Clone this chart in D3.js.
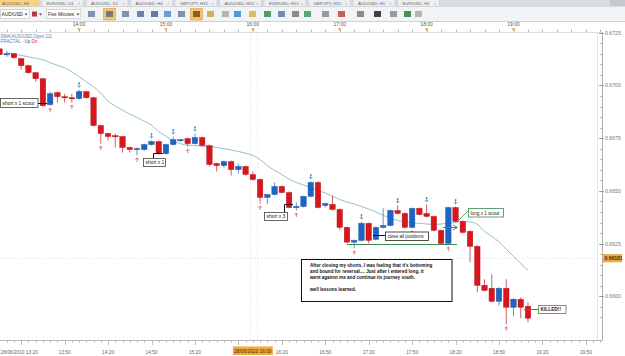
<!DOCTYPE html>
<html><head><meta charset="utf-8">
<script src="https://cdn.jsdelivr.net/npm/d3@7"></script>
<style>body{margin:0;background:#fff;overflow:hidden}svg{display:block;font-family:"Liberation Sans",Arial,sans-serif}</style>
</head><body><svg id="c" width="625" height="356"></svg>
<script>
// ---------- DATA ----------
const times = ["13:05","13:10","13:15","13:20","13:25","13:30","13:35","13:40","13:45","13:50","13:55",
"14:00","14:05","14:10","14:15","14:20","14:25","14:30","14:35","14:40","14:45","14:50","14:55",
"15:00","15:05","15:10","15:15","15:20","15:25","15:30","15:35","15:40","15:45","15:50","15:55",
"16:00","16:05","16:10","16:15","16:20","16:25","16:30","16:35","16:40","16:45","16:50","16:55",
"17:00","17:05","17:10","17:15","17:20","17:25","17:30","17:35","17:40","17:45","17:50","17:55",
"18:00","18:05","18:10","18:15","18:20","18:25","18:30","18:35","18:40","18:45","18:50","18:55",
"19:00","19:05","19:10"];
const opens = [
0.67174,0.67146,0.67151,0.67127,0.67094,0.67061,0.67032,0.66909,0.66966,0.66947,
0.66942,0.66938,0.66971,0.66942,0.66810,0.66772,0.66762,0.66758,0.66706,0.66698,
0.66696,0.66720,0.66734,0.66677,0.66720,0.66739,0.66748,0.66724,0.66753,0.66715,
0.66630,0.66620,0.66639,0.66601,0.66616,0.66578,0.66554,0.66469,0.66483,0.66521,
0.66492,0.66421,0.66426,0.66474,0.66540,0.66431,0.66436,0.66412,0.66327,0.66257,
0.66265,0.66346,0.66270,0.66327,0.66336,0.66407,0.66393,0.66327,0.66417,0.66393,
0.66379,0.66313,0.66251,0.66421,0.66355,0.66308,0.66237,0.66052,0.66038,0.65976,
0.66038,0.65948,0.65986,0.65953];
const highs = [
0.67184,0.67165,0.67155,0.67132,0.67099,0.67065,0.67037,0.66971,0.66971,0.66961,
0.66961,0.66980,0.66975,0.66947,0.66814,0.66777,0.66772,0.66762,0.66710,0.66706,
0.66724,0.66739,0.66739,0.66724,0.66758,0.66748,0.66753,0.66772,0.66758,0.66720,
0.66634,0.66644,0.66644,0.66630,0.66620,0.66592,0.66559,0.66483,0.66540,0.66526,
0.66497,0.66445,0.66478,0.66545,0.66545,0.66445,0.66478,0.66417,0.66331,0.66270,
0.66355,0.66350,0.66331,0.66417,0.66412,0.66431,0.66398,0.66421,0.66421,0.66436,
0.66384,0.66317,0.66426,0.66426,0.66360,0.66313,0.66242,0.66081,0.66104,0.66043,
0.66081,0.65991,0.65995,0.65972];
const lows = [
0.67141,0.67136,0.67127,0.67075,0.67056,0.67018,0.66900,0.66904,0.66919,0.66919,
0.66919,0.66933,0.66938,0.66805,0.66724,0.66739,0.66706,0.66682,0.66682,0.66668,
0.66691,0.66715,0.66672,0.66672,0.66715,0.66734,0.66710,0.66720,0.66710,0.66616,
0.66592,0.66611,0.66573,0.66582,0.66573,0.66549,0.66440,0.66436,0.66478,0.66488,
0.66417,0.66407,0.66421,0.66469,0.66417,0.66421,0.66407,0.66313,0.66251,0.66227,
0.66260,0.66251,0.66265,0.66322,0.66331,0.66388,0.66322,0.66322,0.66384,0.66374,
0.66308,0.66246,0.66246,0.66350,0.66298,0.66161,0.66019,0.66024,0.65972,0.65957,
0.65867,0.65905,0.65896,0.65877];
const closes = [
0.67146,0.67151,0.67132,0.67094,0.67061,0.67032,0.66904,0.66961,0.66947,0.66942,
0.66938,0.66971,0.66942,0.66810,0.66772,0.66758,0.66758,0.66706,0.66696,0.66701,
0.66720,0.66734,0.66677,0.66720,0.66743,0.66743,0.66724,0.66753,0.66715,0.66625,
0.66620,0.66639,0.66601,0.66616,0.66578,0.66554,0.66469,0.66483,0.66521,0.66492,
0.66421,0.66426,0.66474,0.66540,0.66421,0.66440,0.66412,0.66327,0.66257,0.66265,
0.66346,0.66265,0.66327,0.66336,0.66407,0.66393,0.66327,0.66417,0.66388,0.66379,
0.66313,0.66251,0.66421,0.66355,0.66303,0.66237,0.66052,0.66028,0.65976,0.66038,
0.65948,0.65986,0.65948,0.65896];
const ma12 = [null,0.67155,0.67148,0.67143,0.67136,0.67129,0.67122,0.67108,0.67096,0.67084,
0.67065,0.67042,0.67018,0.66994,0.66964,0.66926,0.66902,0.66883,0.66864,0.66848,
0.66831,0.66812,0.66781,0.66760,0.66736,0.66724,0.66717,0.66715,0.66713,0.66710,
0.66706,0.66701,0.66694,0.66687,0.66679,0.66668,0.66649,0.66620,0.66597,0.66578,
0.66556,0.66540,0.66528,0.66516,0.66502,0.66490,0.66474,0.66459,0.66447,0.66438,
0.66426,0.66414,0.66400,0.66384,0.66369,0.66360,0.66353,0.66348,0.66346,0.66343,
0.66341,0.66343,0.66346,0.66350,0.66355,0.66353,0.66341,0.66308,0.66284,0.66258,
0.66223,0.66189,0.66156,0.66123];
const fractalUp = [11,21,24,27,43,50,55,59,63];
const fractalDn = [7,10,14,19,26,36,41,49,57,62,70];
const priceTicks = [0.6600,0.6625,0.6650,0.6675,0.6700,0.6725];
const lastPrice = 0.66181;
const cursorTime = "16:00";
const tabs = ["AUD/USD, H4","EUR/USD, D1","AUD/USD, D1","AUD/USD, H4","GBP/JPY, H15","AUD/USD, H15","EUR/USD, H15","GBP/JPY, H15","AUD/USD, H1","EUR/USD, H1"];
const noteText = ["After closing my shorts, I was feeling that it's bottoming",
"and bound for reversal....  Just after I entered long, it",
"went against me and continue its journey south.",
"",
"well lessons learned."];

// ---------- LAYOUT ----------
const svg = d3.select("#c");
const parseT = d3.timeParse("%H:%M");
const fmt = d3.timeFormat("%H:%M");
const T = times.map(parseT);
const x = d3.scaleTime().domain([T[0], T[T.length-1]]).range([-0.54, 527.98]);
const y = d3.scaleLinear().domain([0.6600, 0.6725]).range([296.3, 32.8]);
const PR = 602.5, PT = 32.5, PB = 340.5;
const RED = "#d8161c", BLUE = "#1d64c4", GREEN = "#3b8c4b";

svg.append("rect").attr("width",625).attr("height",356).attr("fill","#fff");

// ---------- toolbar ----------
const tb = svg.append("g");
tb.append("rect").attr("x",0).attr("y",0).attr("width",625).attr("height",7).attr("fill","#d8dbe0");
tabs.forEach((t,k)=>{
  const tx = k*44.5 - 3;
  tb.append("rect").attr("x",tx).attr("y",-1).attr("width",42).attr("height",7.5)
    .attr("fill", k===0 ? "#f7d383" : "#eceef1").attr("stroke","#c2c5ca").attr("stroke-width",0.5);
  tb.append("text").attr("x",tx+5).attr("y",4.6).attr("font-size",4.3).attr("fill","#666").text(t);
  tb.append("text").attr("x",tx+36.5).attr("y",4.8).attr("font-size",4).attr("fill","#999").text("×");
});
tb.append("rect").attr("x",610).attr("y",0).attr("width",15).attr("height",6).attr("fill","#c5c8ce");
tb.append("rect").attr("x",0).attr("y",7).attr("width",625).attr("height",14.5).attr("fill","#f2f3f5");
tb.append("line").attr("x1",0).attr("x2",625).attr("y1",21.5).attr("y2",21.5).attr("stroke","#cdd0d4");
tb.append("rect").attr("x",0.5).attr("y",9.5).attr("width",29).attr("height",9).attr("fill","#fff").attr("stroke","#b5b8bd").attr("stroke-width",0.5);
tb.append("text").attr("x",1.5).attr("y",16).attr("font-size",4.8).attr("fill","#222").text("AUD/USD");
tb.append("path").attr("d","M24.5,13.5L27.5,13.5L26,15.5Z").attr("fill","#444");
tb.append("rect").attr("x",32).attr("y",11.5).attr("width",5).attr("height",5).attr("fill","#b04040");
tb.append("path").attr("d","M39,13.5L42,13.5L40.5,15.5Z").attr("fill","#444");
tb.append("rect").attr("x",46.5).attr("y",9.5).attr("width",34).attr("height",9).attr("fill","#fff").attr("stroke","#b5b8bd").attr("stroke-width",0.5);
tb.append("text").attr("x",48).attr("y",16).attr("font-size",4.6).attr("fill","#222").text("Five Minutes");
tb.append("path").attr("d","M76.5,13.5L79.5,13.5L78,15.5Z").attr("fill","#444");
const icons = [[88,"#6d83a0",0],[106,"#5d6f8a",1],[122,"#6d83a0",0],[137,"#4e6ea6",0],[151,"#3f69a8",0],[164,"#4d8cd2",0],[178,"#6d7f98",0],
[193,"#7a4a20",1],[207,"#cfa43c",0],[222,"#a8a8a8",0],[234,"#2f86d8",0],[249,"#d6b24a",0],[264,"#3a8a48",0],[278,"#5a7aa2",0],
[292,"#777",0],[304,"#3a9a5a",0],[322,"#888",0],[338,"#c04444",0],[357,"#777",0],[374,"#222",0],[390,"#888",0],[404,"#2f7a3a",0],[415,"#aaa",0]];
icons.forEach(([ix,c,hl])=>{
  if(hl) tb.append("rect").attr("x",ix-2.5).attr("y",8.5).attr("width",12).attr("height",11.5).attr("fill","#f6c36a").attr("stroke","#e39c33").attr("stroke-width",0.6);
  tb.append("rect").attr("x",ix).attr("y",11).attr("width",7).attr("height",6).attr("fill",c).attr("opacity",0.85);
});

// ---------- top time axis ----------
const tAx = svg.append("g");
const t0 = x.invert(0), t1 = x.invert(PR);
d3.timeMinute.every(10).range(t0, t1).forEach(t=>{
  const xx = Math.round(x(t))+0.5;
  tAx.append("line").attr("x1",xx).attr("x2",xx).attr("y1",29.5).attr("y2",32).attr("stroke","#9a9a9a").attr("stroke-width",0.7);
});
d3.timeHour.every(1).range(t0, x.invert(585)).forEach(t=>{
  const xx = x(t);
  tAx.append("text").attr("x",xx).attr("y",26).attr("text-anchor","middle").attr("font-size",5).attr("fill","#555").text(fmt(t));
  tAx.append("path").attr("d",`M${xx-1.8},28.3L${xx+1.8},28.3L${xx},31.3Z`).attr("fill","#f0a030");
});

// ---------- plot ----------
svg.append("clipPath").attr("id","pc").append("rect").attr("x",0).attr("y",PT).attr("width",PR).attr("height",PB-PT);
const plot = svg.append("g").attr("clip-path","url(#pc)");
plot.append("line").attr("x1",0).attr("x2",PR).attr("y1",PT).attr("y2",PT).attr("stroke","#bdbdbd");
plot.append("line").attr("x1",597.5).attr("x2",597.5).attr("y1",PT).attr("y2",PB).attr("stroke","#e4e4e4");
const xc = x(parseT(cursorTime));
[Math.round(xc)-2.5, Math.round(xc)+4.5].forEach(xx=>plot.append("line").attr("x1",xx).attr("x2",xx).attr("y1",PT).attr("y2",PB).attr("stroke","#cfcfcf").attr("stroke-dasharray","1,2").attr("stroke-width",0.7));
const yl = Math.round(y(lastPrice))+0.5;
plot.append("line").attr("x1",0).attr("x2",PR).attr("y1",yl).attr("y2",yl).attr("stroke","#cfcfcf").attr("stroke-dasharray","1,2").attr("stroke-width",0.7);

// legend
plot.append("text").attr("x",0.5).attr("y",37.5).attr("font-size",4.5).attr("fill","#5b80b2").text("SMA(AUD/USD,Open,12)");
const lg = plot.append("text").attr("x",0.5).attr("y",43).attr("font-size",4.5).attr("fill","#5b80b2");
lg.append("tspan").text("FRACTAL - ");
lg.append("tspan").attr("fill","#2a5fb0").text("Up ");
lg.append("tspan").attr("fill","#c83030").text(" Dn");

// MA line
const maLine = d3.line().defined(d=>d.v!=null).x(d=>x(d.t)).y(d=>y(d.v)).curve(d3.curveMonotoneX);
plot.append("path").datum(ma12.map((v,i)=>({t:T[i],v})))
  .attr("d",maLine).attr("fill","none").attr("stroke","#85b8c9").attr("stroke-width",0.9);

// candles
const cd = T.map((t,i)=>({t,o:opens[i],h:highs[i],l:lows[i],c:closes[i]}));
const cg = plot.append("g");
cd.forEach(d=>{
  const up = d.c >= d.o;
  const xx = x(d.t);
  cg.append("line").attr("x1",xx).attr("x2",xx).attr("y1",y(d.h)).attr("y2",y(d.l))
    .attr("stroke", up ? "#5a82bd" : "#c25050").attr("stroke-width",0.9);
  const top = y(Math.max(d.o,d.c)), bot = y(Math.min(d.o,d.c));
  cg.append("rect").attr("x",xx-2.75).attr("y",top).attr("width",5.5).attr("height",Math.max(1.2,bot-top))
    .attr("fill", up ? BLUE : RED).attr("stroke", up ? "#16509e" : "#b01014").attr("stroke-width",0.4);
});

// fractals
fractalDn.forEach(i=>{
  const xx = x(T[i]), yy = y(lows[i]) + 2;
  plot.append("line").attr("x1",xx).attr("x2",xx).attr("y1",yy+0.5).attr("y2",yy+4.5).attr("stroke","#d25a5a").attr("stroke-width",0.8);
  plot.append("path").attr("d",`M${xx-1.5},${yy+2.2}L${xx},${yy+0.4}L${xx+1.5},${yy+2.2}`).attr("fill","none").attr("stroke","#d25a5a").attr("stroke-width",0.8);
});
fractalUp.forEach(i=>{
  const xx = x(T[i]), yy = y(highs[i]) - 2;
  plot.append("line").attr("x1",xx).attr("x2",xx).attr("y1",yy-4.5).attr("y2",yy-0.5).attr("stroke","#4a86c8").attr("stroke-width",0.8);
  plot.append("path").attr("d",`M${xx-1.5},${yy-2.2}L${xx},${yy-0.4}L${xx+1.5},${yy-2.2}`).attr("fill","none").attr("stroke","#4a86c8").attr("stroke-width",0.8);
  plot.append("circle").attr("cx",xx).attr("cy",yy-4.5).attr("r",0.9).attr("fill","#4a86c8");
});

// annotation leaders
const leaders = [
 {pts:[[38,103.5],[47,103.5]], c:"#111", w:1},
 {pts:[[153.5,158],[153.5,153.5],[163,153.5]], c:"#111", w:1},
 {pts:[[284.5,212],[284.5,204.5],[293,204.5]], c:"#111", w:1},
 {pts:[[373,235.5],[385,235.5]], c:"#111", w:1},
 {pts:[[347,244.5],[457,244.5]], c:GREEN, w:1.2},
 {pts:[[443,227.5],[457,227.5]], c:GREEN, w:1.2},
 {pts:[[459,220],[468,211]], c:GREEN, w:0.8},
 {pts:[[524,309.5],[538.5,309.5]], c:GREEN, w:1}
];
leaders.forEach(l=>plot.append("path").attr("d",d3.line()(l.pts)).attr("fill","none").attr("stroke",l.c).attr("stroke-width",l.w));
plot.append("path").attr("d","M453,225L457.5,227.5L453,230").attr("fill","none").attr("stroke",GREEN).attr("stroke-width",0.9);

const notes = [
 {t:"short x 1 scout", x:0.5, y:98.5, w:37.5, h:9, s:"#444", fs:4.9},
 {t:"short x 1", x:143.5, y:158.5, w:22, h:8, s:"#444", fs:4.9},
 {t:"short x 3", x:264.5, y:212.5, w:23, h:8, s:"#444", fs:4.9},
 {t:"close all positions", x:385.5, y:232, w:43, h:8.5, s:"#222", fs:4.6},
 {t:"long x 1 scout", x:468.5, y:208.5, w:35, h:8.5, s:GREEN, fs:4.7},
 {t:"KILLED!!", x:538.5, y:305.5, w:27.5, h:8, s:GREEN, fs:4.8, b:true}
];
notes.forEach(n=>{
  plot.append("rect").attr("x",n.x).attr("y",n.y).attr("width",n.w).attr("height",n.h).attr("fill","#fff").attr("stroke",n.s).attr("stroke-width",0.8);
  plot.append("text").attr("x",n.x+2).attr("y",n.y+n.h-2.4).attr("font-size",n.fs).attr("font-weight",n.b?"bold":"normal").attr("fill","#222").text(n.t);
});
plot.append("rect").attr("x",301.5).attr("y",259.5).attr("width",150.5).attr("height",42).attr("fill","#fff").attr("stroke","#111").attr("stroke-width",1);
noteText.forEach((s,k)=>{
  plot.append("text").attr("x",310).attr("y",266.5+k*6.2).attr("font-size",4.6).attr("font-weight","bold").attr("fill","#111").text(s);
});

// ---------- right price axis ----------
const ra = svg.append("g");
ra.append("line").attr("x1",PR).attr("x2",PR).attr("y1",PT).attr("y2",PB).attr("stroke","#9c9c9c").attr("stroke-width",0.8);
d3.range(0.6590, 0.67300, 0.0005).forEach(p=>{
  const yy = Math.round(y(p))+0.5;
  if (yy < PT || yy > PB) return;
  ra.append("line").attr("x1",PR-2.5).attr("x2",PR).attr("y1",yy).attr("y2",yy).attr("stroke","#9c9c9c").attr("stroke-width",0.7);
});
priceTicks.forEach(p=>{
  const yy = Math.round(y(p))+0.5;
  ra.append("line").attr("x1",PR-3.5).attr("x2",PR+1.5).attr("y1",yy).attr("y2",yy).attr("stroke","#8a8a8a").attr("stroke-width",0.7);
  ra.append("text").attr("x",PR+2.5).attr("y",yy+1.8).attr("font-size",5.2).attr("fill","#777").text(p.toFixed(4));
});
ra.append("rect").attr("x",PR+1).attr("y",y(lastPrice)-3.6).attr("width",18).attr("height",7.4).attr("fill","#f4a73a").attr("stroke","#d98d22").attr("stroke-width",0.5);
ra.append("text").attr("x",PR+2).attr("y",y(lastPrice)+1.9).attr("font-size",5).attr("font-weight","bold").attr("fill","#3a2a10").text(lastPrice.toFixed(5));

// ---------- bottom time axis ----------
const ba = svg.append("g");
ba.append("line").attr("x1",0).attr("x2",PR).attr("y1",PB).attr("y2",PB).attr("stroke","#a8a8a8").attr("stroke-width",0.8);
const hlX0 = xc - 20, hlX1 = xc + 20;
d3.timeMinute.every(5).range(t0, t1).forEach(t=>{
  const xx = Math.round(x(t))+0.5;
  const major = (t.getMinutes() % 30) === 20;
  ba.append("line").attr("x1",xx).attr("x2",xx).attr("y1",PB).attr("y2",PB+(major?4.5:2.2)).attr("stroke","#a0a0a0").attr("stroke-width",0.7);
  if (major) {
    const xt = x(t);
    if (xt > hlX0 - 6 && xt < hlX1 + 6) return;
    const first = xt < 30;
    ba.append("text").attr("x", first ? 0.5 : xt).attr("y",353.5).attr("text-anchor", first ? "start" : "middle")
      .attr("font-size",4.8).attr("fill","#666").text(first ? "28/06/2010 " + fmt(t) : fmt(t));
  }
});
ba.append("rect").attr("x",hlX0).attr("y",346.5).attr("width",40).attr("height",8.5).attr("fill","#f4a73a");
ba.append("text").attr("x",xc).attr("y",353).attr("text-anchor","middle").attr("font-size",4.8).attr("fill","#3a2a10").text("28/06/2010 " + cursorTime);
</script></body></html>
